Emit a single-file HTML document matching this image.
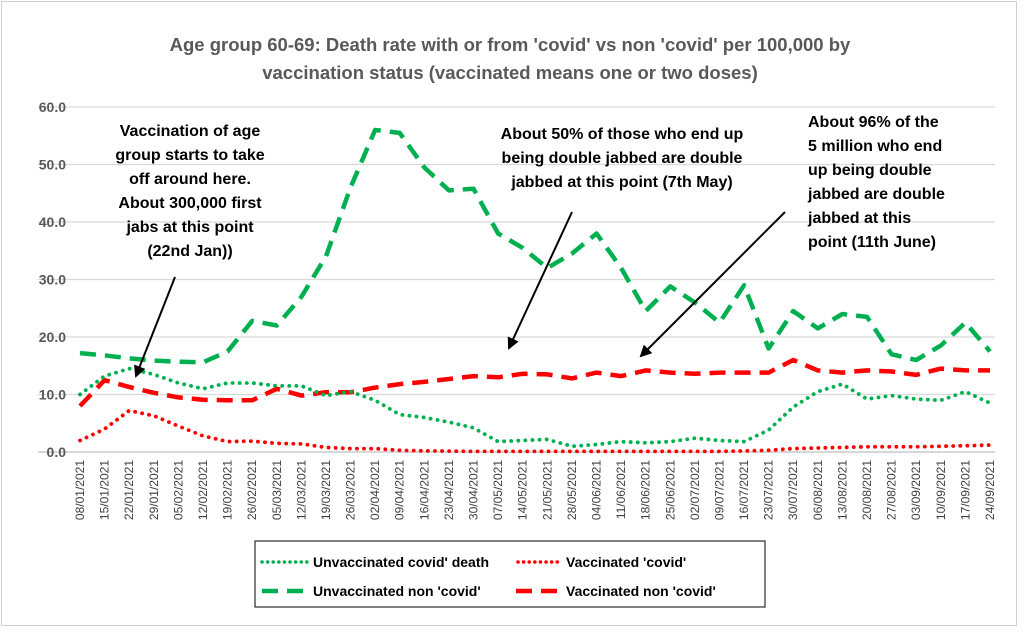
<!DOCTYPE html>
<html><head><meta charset="utf-8"><style>
body{margin:0;background:#fff;font-family:"Liberation Sans",sans-serif}
svg text{font-family:"Liberation Sans",sans-serif}
</style></head><body>
<svg id="chart" width="1028" height="634">
<rect x="1.5" y="1.5" width="1015" height="624" fill="#fff" stroke="#d0d0d0"/>
<text x="510" y="51" text-anchor="middle" font-size="18.5" font-weight="bold" fill="#595959">Age group 60-69: Death rate with or from 'covid' vs non 'covid' per 100,000 by</text>
<text x="510" y="79" text-anchor="middle" font-size="18.5" font-weight="bold" fill="#595959">vaccination status (vaccinated means one or two doses)</text>
<g id="grid"></g><g id="xl"></g><g id="series"></g>
<g font-size="16" font-weight="bold" fill="#000" text-anchor="middle">
<text x="190" y="136">Vaccination of age</text><text x="190" y="160">group starts to take</text><text x="190" y="184">off around here.</text><text x="190" y="208">About 300,000 first</text><text x="190" y="232">jabs at this point</text><text x="190" y="256">(22nd Jan))</text></g>
<g font-size="16" font-weight="bold" fill="#000" text-anchor="middle">
<text x="622" y="139">About 50% of those who end up</text><text x="622" y="163">being double jabbed are double</text><text x="622" y="187">jabbed at this point (7th May)</text></g>
<g font-size="16" font-weight="bold" fill="#000">
<text x="808" y="127">About 96% of the</text><text x="808" y="151">5 million who end</text><text x="808" y="175">up being double</text><text x="808" y="199">jabbed are double</text><text x="808" y="223">jabbed at this</text><text x="808" y="247">point  (11th June)</text></g>
<defs><marker id="ah" markerWidth="12" markerHeight="12" refX="10" refY="6" orient="auto" markerUnits="userSpaceOnUse"><path d="M0,0L12,6L0,12z" fill="#000"/></marker></defs>
<line x1="175" y1="277" x2="136" y2="376" stroke="#000" stroke-width="2" marker-end="url(#ah)"/>
<line x1="572" y1="212" x2="509" y2="348" stroke="#000" stroke-width="2" marker-end="url(#ah)"/>
<line x1="785" y1="212" x2="641" y2="356" stroke="#000" stroke-width="2" marker-end="url(#ah)"/>
<rect x="255" y="541" width="510" height="66" fill="#fff" stroke="#000"/>
<g font-size="14" font-weight="bold" fill="#000">
<line x1="262" y1="562" x2="310" y2="562" stroke="#00b050" stroke-width="3.5" stroke-dasharray="0.1 5.5" stroke-linecap="round"/>
<text x="313" y="567">Unvaccinated covid' death</text>
<line x1="518" y1="562" x2="562" y2="562" stroke="#ff0000" stroke-width="3.5" stroke-dasharray="0.1 5.5" stroke-linecap="round"/>
<text x="566" y="567">Vaccinated 'covid'</text>
<line x1="262" y1="591" x2="310" y2="591" stroke="#00b050" stroke-width="4.5" stroke-dasharray="16 9"/>
<text x="313" y="596">Unvaccinated non 'covid'</text>
<line x1="516" y1="591" x2="562" y2="591" stroke="#ff0000" stroke-width="4.5" stroke-dasharray="16 9"/>
<text x="566" y="596">Vaccinated non 'covid'</text>
</g>
</svg>
<script>
const categories=["08/01/2021","15/01/2021","22/01/2021","29/01/2021","05/02/2021","12/02/2021","19/02/2021","26/02/2021","05/03/2021","12/03/2021","19/03/2021","26/03/2021","02/04/2021","09/04/2021","16/04/2021","23/04/2021","30/04/2021","07/05/2021","14/05/2021","21/05/2021","28/05/2021","04/06/2021","11/06/2021","18/06/2021","25/06/2021","02/07/2021","09/07/2021","16/07/2021","23/07/2021","30/07/2021","06/08/2021","13/08/2021","20/08/2021","27/08/2021","03/09/2021","10/09/2021","17/09/2021","24/09/2021"];
const unvaxNonCovid=[17.2,16.8,16.3,15.9,15.7,15.6,17.5,22.8,22,27,34,46,56,55.5,49.5,45.5,45.8,38,35.5,32,34.5,38,32,24.5,28.8,26,22.5,29,18,24.5,21.5,24,23.5,17,16,18.5,22.5,17.5];
const unvaxCovid=[10,13.2,14.5,13.5,12,11,12,12,11.5,11.5,9.8,10.5,9,6.5,6,5.2,4.2,1.8,2,2.2,1,1.3,1.8,1.6,1.8,2.4,2,1.8,3.8,7.8,10.5,11.8,9.2,9.8,9.2,9,10.5,8.5];
const vaxNonCovid=[8,12.5,11.3,10.3,9.5,9.1,9,9,11,9.8,10.4,10.4,11.2,11.8,12.2,12.7,13.2,13,13.6,13.5,12.8,13.8,13.2,14.2,13.8,13.6,13.8,13.8,13.8,16,14.2,13.8,14.2,14,13.4,14.5,14.2,14.2];
const vaxCovid=[2,4,7.2,6.3,4.5,2.8,1.8,1.9,1.5,1.4,0.8,0.6,0.6,0.3,0.2,0.15,0.1,0.1,0.1,0.1,0.1,0.1,0.1,0.1,0.1,0.1,0.1,0.2,0.3,0.6,0.7,0.8,0.9,0.9,0.9,1,1.1,1.2];
const yTicks=[0,10,20,30,40,50,60];
const NS="http://www.w3.org/2000/svg";
const x0=80,x1=990,y0=452,yTop=107;
const xs=i=>x0+i*(x1-x0)/(categories.length-1);
const ys=v=>y0-(v/60)*(y0-yTop);
function mk(t,a,p){const e=document.createElementNS(NS,t);for(const k in a)e.setAttribute(k,a[k]);p.appendChild(e);return e;}
const grid=document.getElementById('grid');
yTicks.forEach(v=>{
 const l=mk('line',{x1:38,x2:995,y1:ys(v),y2:ys(v),stroke:v===0?'#bfbfbf':'#d9d9d9','stroke-width':1.3},grid);
 
 
 const t=mk('text',{x:66,y:ys(v)+5,'text-anchor':'end','font-size':14,'font-weight':'bold',fill:'#595959'},grid);
 t.textContent=v.toFixed(1);
 
 
});
const xl=document.getElementById('xl');
categories.forEach((c,i)=>{
 const t=mk('text',{x:0,y:0,'text-anchor':'end','font-size':12,fill:'#404040',transform:`translate(${xs(i)+4},460) rotate(-90)`},xl);
 t.textContent=c;
 
 
});
const sg=document.getElementById('series');
function line(vals,color,w,dash,cap,name){
 const d=vals.map((v,i)=>(i?'L':'M')+xs(i).toFixed(1)+','+ys(v).toFixed(1)).join('');
 const p=mk('path',{d:d,fill:'none',stroke:color,'stroke-width':w,'stroke-dasharray':dash,'stroke-linecap':cap,'stroke-linejoin':'round'},sg);
 
 
}
line(unvaxNonCovid,'#00b050',4.5,'16 9','butt','series-unvaccinated-non-covid');
line(vaxNonCovid,'#ff0000',4.5,'16 9','butt','series-vaccinated-non-covid');
line(unvaxCovid,'#00b050',3.8,'0.1 7','round','series-unvaccinated-covid');
line(vaxCovid,'#ff0000',3.8,'0.1 7','round','series-vaccinated-covid');
</script>
</body></html>
